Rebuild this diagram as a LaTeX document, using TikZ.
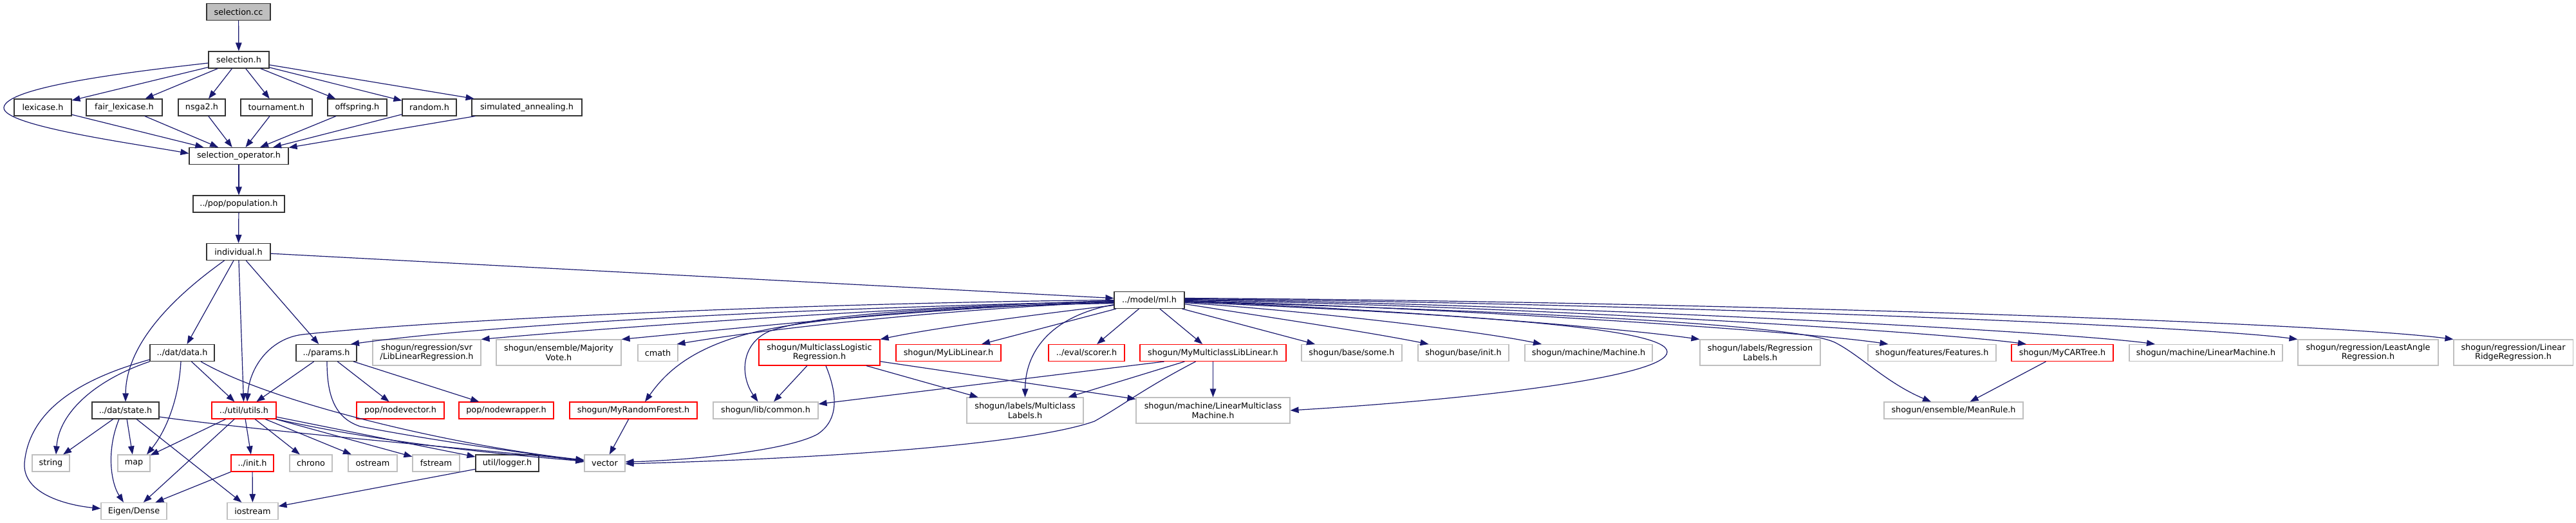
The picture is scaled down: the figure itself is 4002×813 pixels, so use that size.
\documentclass[tikz,border=0pt]{standalone}
\usepackage{fontspec}
\setmainfont{DejaVu Sans}
\usetikzlibrary{arrows.meta}
\definecolor{edgeblue}{HTML}{191970}
\definecolor{greyseventyfive}{HTML}{BFBFBF}
\newcommand\nodefont{\fontsize{12.8pt}{14.5pt}\selectfont}
\begin{document}
\begin{tikzpicture}[x=1pt,y=-1pt,
  nd/.style={rectangle, inner sep=0pt, align=center, line width=1.1pt, font=\nodefont, text=black, fill=white},
  blk/.style={nd, draw=black!80},
  gry/.style={nd, draw=greyseventyfive},
  rd/.style={nd, draw=red},
  rootbox/.style={nd, draw=black!80, fill=greyseventyfive},
  one/.style={minimum height=26pt},
  two/.style={minimum height=40pt},
  arr/.style={draw=edgeblue, line width=1.2pt, -{Triangle[length=13pt,width=9.5pt]}}
]
\fill[white] (0,0) rectangle (4002,813);
\useasboundingbox (0,0) rectangle (4002,813);

% rows 0-6
\node[rootbox, one, minimum width=99pt] (selcc) at (370.5,18.5) {selection.cc};
\node[blk, one, minimum width=94pt] (selh) at (371,93) {selection.h};
\node[blk, one, minimum width=89pt] (lex) at (66.5,167) {lexicase.h};
\node[blk, one, minimum width=118pt] (fairlex) at (193,167) {fair\_lexicase.h};
\node[blk, one, minimum width=73pt] (nsga2) at (313.5,167) {nsga2.h};
\node[blk, one, minimum width=111pt] (tourn) at (429.5,167) {tournament.h};
\node[blk, one, minimum width=92pt] (offs) at (555,167) {offspring.h};
\node[blk, one, minimum width=84pt] (rand) at (667,167) {random.h};
\node[blk, one, minimum width=171pt] (simann) at (818.5,167) {simulated\_annealing.h};
\node[blk, one, minimum width=154pt] (selop) at (371,242.5) {selection\_operator.h};
\node[blk, one, minimum width=142pt] (pop) at (371,317) {../pop/population.h};
\node[blk, one, minimum width=99pt] (indiv) at (370.5,391.5) {individual.h};
\node[blk, one, minimum width=109pt] (ml) at (1785.5,466.5) {../model/ml.h};

% row 7
\node[blk, one, minimum width=100pt] (data) at (283,548.5) {../dat/data.h};
\node[blk, one, minimum width=94pt] (params) at (507,548.5) {../params.h};
\node[gry, two, minimum width=168pt] (svr) at (663,548) {shogun/regression/svr\\/LibLinearRegression.h};
\node[gry, two, minimum width=194pt] (majority) at (868,548) {shogun/ensemble/Majority\\Vote.h};
\node[gry, one, minimum width=62pt] (cmath) at (1022,548.5) {cmath};
\node[rd, two, minimum width=188pt] (mlr) at (1273,548) {shogun/MulticlassLogistic\\Regression.h};
\node[rd, one, minimum width=163pt] (mylib) at (1473.5,548.5) {shogun/MyLibLinear.h};
\node[rd, one, minimum width=118pt] (scorer) at (1688,548.5) {../eval/scorer.h};
\node[rd, one, minimum width=227pt] (mymc) at (1884.5,548.5) {shogun/MyMulticlassLibLinear.h};
\node[gry, one, minimum width=156pt] (some) at (2100,548.5) {shogun/base/some.h};
\node[gry, one, minimum width=141pt] (binit) at (2273.5,548.5) {shogun/base/init.h};
\node[gry, one, minimum width=198pt] (machine) at (2468,548.5) {shogun/machine/Machine.h};
\node[gry, two, minimum width=187pt] (reglab) at (2734.5,548) {shogun/labels/Regression\\Labels.h};
\node[gry, one, minimum width=199pt] (feat) at (3001.5,548.5) {shogun/features/Features.h};
\node[rd, one, minimum width=158pt] (cart) at (3204,548.5) {shogun/MyCARTree.h};
\node[gry, one, minimum width=238pt] (linmach) at (3427,548.5) {shogun/machine/LinearMachine.h};
\node[gry, two, minimum width=218pt] (lar) at (3679,548) {shogun/regression/LeastAngle\\Regression.h};
\node[gry, two, minimum width=185pt] (lrr) at (3904.5,548) {shogun/regression/Linear\\RidgeRegression.h};

% row 8
\node[blk, one, minimum width=104pt] (state) at (195,638) {../dat/state.h};
\node[rd, one, minimum width=100pt] (utils) at (379,638) {../util/utils.h};
\node[rd, one, minimum width=136pt] (nodevec) at (622,638) {pop/nodevector.h};
\node[rd, one, minimum width=147pt] (nodewrap) at (786.5,638) {pop/nodewrapper.h};
\node[rd, one, minimum width=198pt] (myrf) at (984,638) {shogun/MyRandomForest.h};
\node[gry, one, minimum width=163pt] (common) at (1189.5,638) {shogun/lib/common.h};
\node[gry, two, minimum width=181pt] (mclabels) at (1592.5,638) {shogun/labels/Multiclass\\Labels.h};
\node[gry, two, minimum width=239pt] (lmm) at (1884.5,638) {shogun/machine/LinearMulticlass\\Machine.h};
\node[gry, one, minimum width=216pt] (meanrule) at (3035,638) {shogun/ensemble/MeanRule.h};

% row 9
\node[gry, one, minimum width=58pt] (string) at (79,720) {string};
\node[gry, one, minimum width=50pt] (map) at (208,720) {map};
\node[rd, one, minimum width=66pt] (init) at (392,720) {../init.h};
\node[gry, one, minimum width=66pt] (chrono) at (483,720) {chrono};
\node[gry, one, minimum width=76pt] (ostream) at (579,720) {ostream};
\node[gry, one, minimum width=73pt] (fstream) at (677.5,720) {fstream};
\node[blk, one, minimum width=98pt] (logger) at (788,720) {util/logger.h};
\node[gry, one, minimum width=63pt] (vector) at (939.5,720) {vector};

% row 10
\node[gry, one, minimum width=102pt] (eigen) at (208,794.5) {Eigen/Dense};
\node[gry, one, minimum width=79pt] (iostream) at (392.5,794.5) {iostream};

% ---------- edges ----------
\draw[arr] (selcc) -- (selh);
\foreach \n in {lex,fairlex,nsga2,tourn,offs,rand,simann} {
  \draw[arr] (selh) -- (\n);
  \draw[arr] (\n) -- (selop);
}
\draw[arr] ([yshift=-5pt]selh.west) .. controls (200,112) and (10,135) .. (6,167)
  .. controls (3,195) and (200,222) .. ([yshift=4pt]selop.west);
\draw[arr] (selop) -- (pop);
\draw[arr] (pop) -- (indiv);

% individual
\draw[arr] (indiv) -- (ml);
\draw[arr] (indiv) -- (data);
\draw[arr] (indiv) -- (utils);
\draw[arr] (indiv) -- (params);
\draw[arr] ([xshift=-22pt]indiv.south) .. controls (300,440) and (196,520) .. (state.north);

% data
\draw[arr] ([yshift=3pt]data.south west) .. controls (120,590) and (45,640) .. (38,720)
  .. controls (35,770) and (110,786) .. ([yshift=4pt]eigen.west);
\draw[arr] (data.south west) .. controls (150,590) and (92,640) .. ([xshift=8pt]string.north);
\draw[arr] ([xshift=-2pt]data.south) .. controls (278,620) and (258,670) .. ([xshift=20pt]map.north);
\draw[arr] (data) -- (utils);
\draw[arr] ([xshift=29pt]data.south) .. controls (430,630) and (720,695) .. ([yshift=5pt]vector.west);

% state
\draw[arr] (state) -- (string);
\draw[arr] (state) -- (map);
\draw[arr] ([xshift=-10pt]state.south) .. controls (165,700) and (172,750) .. ([xshift=-16pt]eigen.north);
\draw[arr] (state) -- (iostream);
\draw[arr] ([yshift=-10pt]state.east) .. controls (420,672) and (760,700) .. ([yshift=4pt]vector.west);

% utils
\foreach \n in {map,eigen,init,chrono,ostream,fstream,logger} {
  \draw[arr] (utils) -- (\n);
}
\draw[arr] (utils.south east) .. controls (600,690) and (800,708) .. ([yshift=3pt]vector.west);

% params
\draw[arr] (params) -- (utils);
\draw[arr] (params) -- (nodevec);
\draw[arr] (params) -- (nodewrap);
\draw[arr] ([xshift=1pt]params.south) .. controls (508,615) and (520,650) .. (560,663)
  .. controls (700,690) and (850,708) .. ([yshift=2pt]vector.west);

% init, logger, random forest
\draw[arr] (init) -- (eigen);
\draw[arr] (init) -- (iostream);
\draw[arr] (logger) -- (iostream);
\draw[arr] (myrf) -- (vector);

% multiclass logistic regression
\draw[arr] (mlr) -- (common);
\draw[arr] (mlr) -- (mclabels);
\draw[arr] (mlr) -- (lmm);
\draw[arr] ([xshift=10pt]mlr.south) .. controls (1300,610) and (1305,652) .. (1270,675)
  .. controls (1220,702) and (1060,716) .. ([yshift=2pt]vector.east);

% my multiclass liblinear
\draw[arr] ([xshift=-76pt]mymc.south) -- ([yshift=10pt]common.east);
\draw[arr] (mymc) -- (mclabels);
\draw[arr] (mymc) -- (lmm);
\draw[arr] ([xshift=-27pt]mymc.south) .. controls (1775,605) and (1745,630) .. (1700,655)
  .. controls (1600,690) and (1300,712) .. ([yshift=-1pt]vector.east);

\draw[arr] (cart) -- (meanrule);

% ml.h to the left
\draw[arr] (ml.west) .. controls (1300,470) and (700,495) .. (470,520)
  .. controls (420,526) and (388,570) .. ([xshift=5pt]utils.north);
\draw[arr] ([yshift=-2pt]ml.west) .. controls (1300,478) and (800,500) .. ([xshift=38pt]params.north);
\draw[arr] ([yshift=-1pt]ml.west) .. controls (1400,478) and (1000,505) .. (svr.north east);
\draw[arr] ([yshift=-2pt]ml.west) .. controls (1450,478) and (1150,510) .. (majority.north east);
\draw[arr] ([yshift=-3pt]ml.west) .. controls (1480,480) and (1200,510) .. ([xshift=-2pt]cmath.north east);
\draw[arr] ([yshift=-4pt]ml.west) .. controls (1450,478) and (1250,495) .. (1158,520)
  .. controls (1066,545) and (1030,585) .. ([xshift=18pt]myrf.north);
\draw[arr] ([yshift=-5pt]ml.west) .. controls (1450,476) and (1262,490) .. (1195,515)
  .. controls (1150,535) and (1150,585) .. ([xshift=-12pt]common.north);
\draw[arr] ([yshift=-8pt]ml.west) .. controls (1600,490) and (1450,510) .. (mlr.north east);
\draw[arr] (ml) -- (mylib);
\draw[arr] ([yshift=-7pt]ml.west) .. controls (1640,490) and (1593,540) .. (mclabels.north);
\draw[arr] (ml) -- (scorer);
\draw[arr] (ml) -- (mymc);

% ml.h to the right
\draw[arr] (ml) -- ([xshift=-57pt]some.north);
\draw[arr] ([yshift=-6pt]ml.east) .. controls (1950,490) and (2120,515) .. ([xshift=-54pt]binit.north);
\draw[arr] ([yshift=-4pt]ml.east) .. controls (2050,485) and (2300,515) .. ([xshift=-73pt]machine.north);
\draw[arr] ([yshift=-3pt]ml.east) .. controls (2300,490) and (2590,510) .. (2590,547)
  .. controls (2590,585) and (2300,620) .. (lmm.east);
\draw[arr] ([yshift=-2pt]ml.east) .. controls (2150,480) and (2500,508) .. (reglab.north west);
\draw[arr] ([yshift=-2pt]ml.east) .. controls (2400,485) and (2790,505) .. (2850,532)
  .. controls (2890,552) and (2930,595) .. ([xshift=-35pt]meanrule.north);
\draw[arr] ([yshift=-1pt]ml.east) .. controls (2250,478) and (2800,515) .. ([xshift=-68pt]feat.north);
\draw[arr] (ml.east) .. controls (2350,475) and (3000,515) .. ([xshift=-56pt]cart.north);
\draw[arr] ([yshift=1pt]ml.east) .. controls (2400,472) and (3200,515) .. ([xshift=-79pt]linmach.north);
\draw[arr] ([yshift=2pt]ml.east) .. controls (2500,470) and (3400,505) .. (lar.north west);
\draw[arr] ([yshift=3pt]ml.east) .. controls (2600,468) and (3600,500) .. (lrr.north west);
\end{tikzpicture}
\end{document}
